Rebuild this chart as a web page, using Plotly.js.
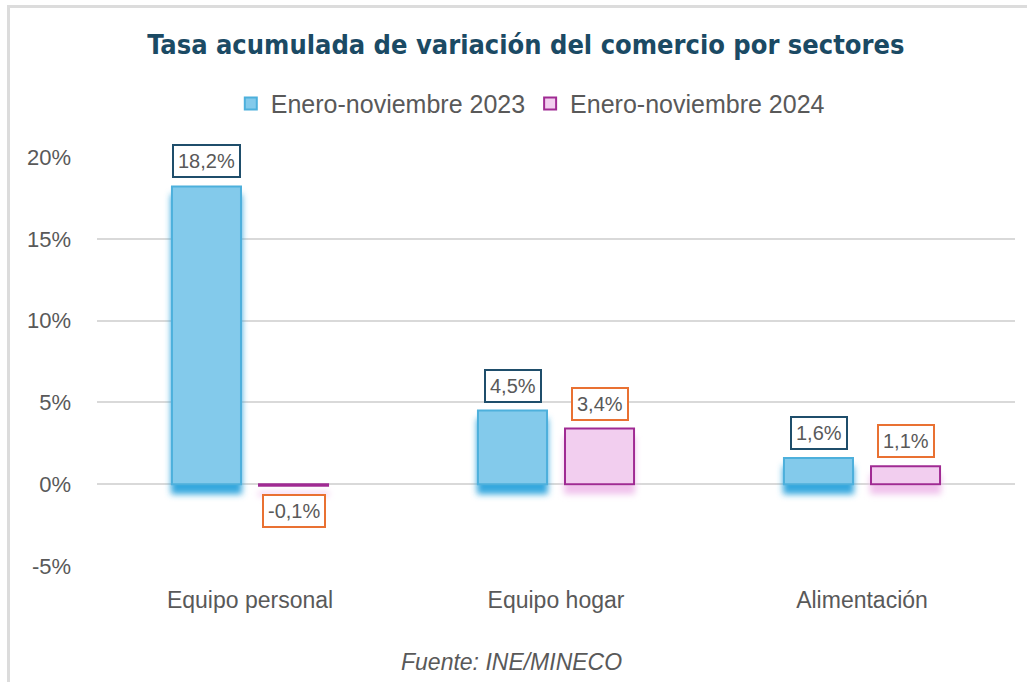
<!DOCTYPE html>
<html>
<head>
<meta charset="utf-8">
<script src="https://cdn.plot.ly/plotly-3.0.1.min.js"></script>
<style>
html,body{margin:0;padding:0;background:#fff;}
#wrap{position:relative;width:1027px;height:682px;overflow:hidden;}
#chart{position:absolute;left:0;top:0;width:1027px;height:682px;}
#frame{position:absolute;left:7px;top:5px;width:1030px;height:690px;border-top:3px solid #DCDCDC;border-left:3px solid #DCDCDC;pointer-events:none;}
</style>
</head>
<body>
<div id="wrap"><div id="chart"></div><div id="frame"></div></div>
<script>
const categories = ["Equipo personal", "Equipo hogar", "Alimentación"];
const seriesNames = ["Enero-noviembre 2023", "Enero-noviembre 2024"];
const values2023 = [18.2, 4.5, 1.6];
const values2024 = [-0.1, 3.4, 1.1];
const yTickVals = [-5, 0, 5, 10, 15, 20];
const yTickText = ["-5%", "0%", "5%", "10%", "15%", "20%"];
const titleText = "Tasa acumulada de variación del comercio por sectores";
const sourceText = "Fuente: INE/MINECO";

const fmt = v => v.toFixed(1).replace(".", ",") + "%";
const FONT = "Liberation Sans, Arial, sans-serif";

const traces = [
  {type: "bar", name: seriesNames[0], x: categories, y: values2023,
   marker: {color: "#83CAEB", line: {color: "#4DB0DC", width: 2}}, hoverinfo: "skip"},
  {type: "bar", name: seriesNames[1], x: categories, y: values2024,
   marker: {color: "#F2CEEF", line: {color: "#A02B93", width: 2}}, hoverinfo: "skip"}
];

const annotations = [];
const addLabels = (vals, shift, border) => {
  vals.forEach((v, i) => {
    annotations.push({
      x: categories[i], y: v, xref: "x", yref: "y", xshift: shift,
      yshift: v >= 0 ? 8 : -8, yanchor: v >= 0 ? "bottom" : "top",
      text: fmt(v), showarrow: false,
      font: {family: FONT, size: 20, color: "#595959"},
      bgcolor: "#FFFFFF", bordercolor: border, borderwidth: 2, borderpad: 4
    });
  });
};
addLabels(values2023, -43.5, "#1F4E6B");
addLabels(values2024, 43.5, "#E97132");

annotations.push({
  text: sourceText, xref: "paper", yref: "paper", x: 0.452, y: -0.235,
  xanchor: "center", yanchor: "middle", showarrow: false,
  font: {family: FONT, size: 23, color: "#595959", style: "italic"}
});

const layout = {
  width: 1027, height: 682,
  margin: {l: 97, r: 12, t: 157, b: 116},
  paper_bgcolor: "rgba(0,0,0,0)", plot_bgcolor: "rgba(0,0,0,0)",
  title: {text: "<b>" + titleText + "</b>", x: 0.512, xanchor: "center", y: 0.934, yanchor: "middle",
    font: {family: "DejaVu Sans Condensed, Liberation Sans Narrow, Arial Narrow, sans-serif", size: 27, color: "#1B4A64"}},
  barmode: "group", bargap: 0.431, bargroupgap: 0.207,
  showlegend: true,
  legend: {orientation: "h", x: 0.472, xanchor: "center", y: 1.13, yanchor: "middle",
    font: {family: FONT, size: 25, color: "#595959"},
    itemwidth: 30, traceorder: "normal"},
  xaxis: {type: "category", showgrid: false, zeroline: false, showline: false, ticks: "",
    tickfont: {family: FONT, size: 23, color: "#595959"}, ticklabelstandoff: 18},
  yaxis: {range: [-5, 20], tickvals: yTickVals, ticktext: yTickText, showgrid: true,
    gridcolor: "#D9D9D9", gridwidth: 2, zeroline: true, zerolinecolor: "#D9D9D9", zerolinewidth: 2,
    showline: false, ticks: "", ticklabelstandoff: 25,
    tickfont: {family: FONT, size: 22, color: "#595959"}},
  annotations: annotations
};

Plotly.newPlot("chart", traces, layout, {staticPlot: true, displayModeBar: false}).then(gd => {
  const svg = gd.querySelector("svg.main-svg");
  const NS = "http://www.w3.org/2000/svg";
  let defs = svg.querySelector("defs");
  if (!defs) { defs = document.createElementNS(NS, "defs"); svg.insertBefore(defs, svg.firstChild); }
  const mk = (id, color) => {
    const f = document.createElementNS(NS, "filter");
    f.setAttribute("id", id);
    f.setAttribute("filterUnits", "userSpaceOnUse");
    f.setAttribute("x", "-100"); f.setAttribute("y", "-100");
    f.setAttribute("width", "2000"); f.setAttribute("height", "2000");
    f.innerHTML =
      '<feFlood flood-color="' + color + '" result="c"/>' +
      '<feComposite in="c" in2="SourceAlpha" operator="in" result="s"/>' +
      '<feGaussianBlur in="s" stdDeviation="3" result="b"/>' +
      '<feOffset in="b" dx="0" dy="9" result="o"/>' +
      '<feMerge><feMergeNode in="o"/><feMergeNode in="SourceGraphic"/></feMerge>';
    defs.appendChild(f);
  };
  mk("shadowBlue", "#35A7DE");
  mk("shadowPink", "#F0C2EC");
  const tr = gd.querySelectorAll(".barlayer .trace");
  tr.forEach((t, k) => {
    t.querySelectorAll(".point path").forEach(p => p.setAttribute("filter", "url(#" + (k === 0 ? "shadowBlue" : "shadowPink") + ")"));
  });
});
</script>
</body>
</html>
